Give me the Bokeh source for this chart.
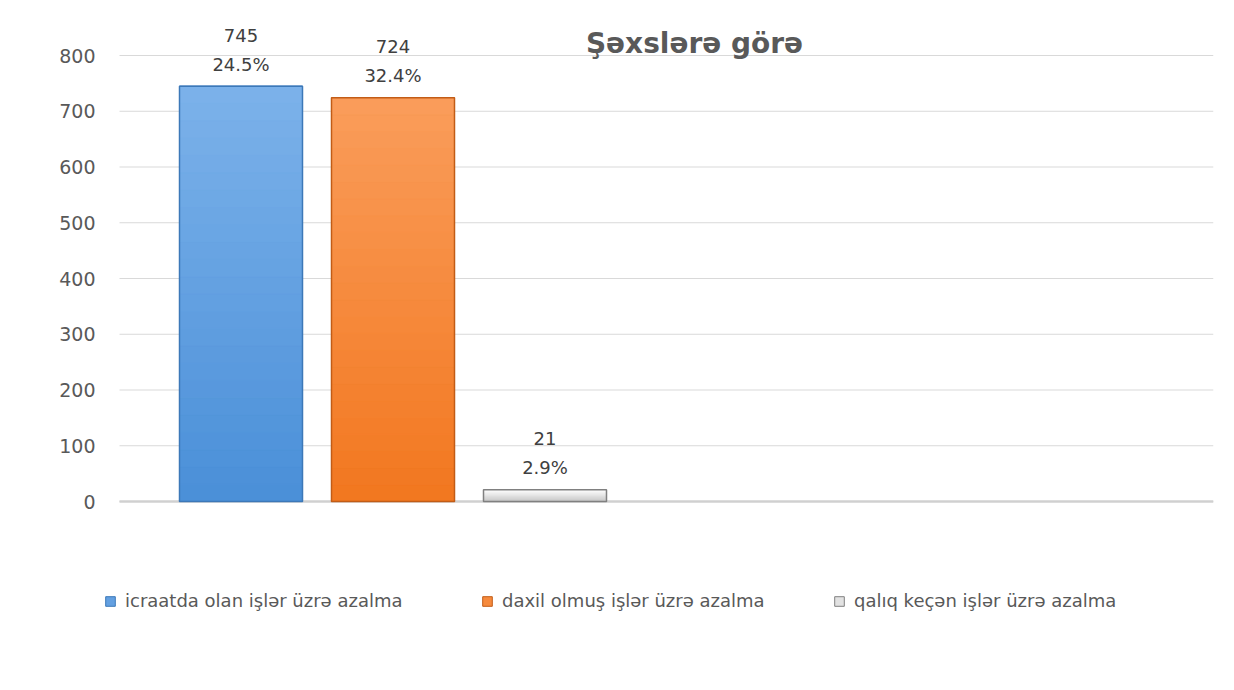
from bokeh.plotting import figure
from bokeh.models import Range1d, FixedTicker, Legend, LegendItem, ColumnDataSource
from bokeh.core.properties import value
from bokeh.embed import file_html
from bokeh.resources import INLINE

# ---- data ----
title_text = "Şəxslərə görə"
series_names = ["icraatda olan işlər üzrə azalma",
                "daxil olmuş işlər üzrə azalma",
                "qalıq keçən işlər üzrə azalma"]
series_values = [745, 724, 21]
series_percents = ["24.5%", "32.4%", "2.9%"]
y_ticks = [0, 100, 200, 300, 400, 500, 600, 700, 800]
n_categories = 2  # second category slot is empty

# ---- style ----
FONT = "DejaVu Sans"
TXT = "#595959"
top_colors = ["#7cb2ea", "#fa9d5b", "#ffffff"]
bot_colors = ["#4a8fd8", "#f2771f", "#c4c4c4"]
line_colors = ["#3c78b8", "#c25c16", "#808080"]

W, H = 1226, 682
left_b, right_b = 104, 13
cat_px = 547.0
data_left_px = 119           # where x = 0 sits
x_start = -(data_left_px - left_b) / cat_px
px_per_unit = 55.75 / 100.0
zero_px = 501
y_end = zero_px / px_per_unit
y_start = -(H - zero_px) / px_per_unit

p = figure(width=W, height=H, output_backend="svg", toolbar_location=None,
           x_range=Range1d(x_start, n_categories), y_range=Range1d(y_start, y_end),
           min_border_left=left_b, min_border_right=right_b,
           min_border_top=0, min_border_bottom=0)
p.outline_line_color = None
p.xaxis.visible = False
p.xgrid.visible = False
p.ygrid.visible = False
p.yaxis.ticker = FixedTicker(ticks=y_ticks)
p.yaxis.axis_line_color = None
p.yaxis.major_tick_line_color = None
p.yaxis.minor_tick_line_color = None
p.yaxis.major_label_text_font = FONT
p.yaxis.major_label_text_font_size = "19px"
p.yaxis.major_label_text_color = TXT
p.yaxis.major_label_standoff = 3
p.background_fill_color = "white"
p.border_fill_color = "white"

# gridlines spanning the category area
p.segment(x0=[0] * len(y_ticks), x1=[n_categories] * len(y_ticks),
          y0=y_ticks, y1=y_ticks, line_color="#d9d9d9", line_width=1)
p.segment(x0=[0], x1=[n_categories], y0=[0], y1=[0],
          line_color="#d0d0d0", line_width=2.5)

# bar geometry within category 0
cat_center = 0.5
step = 152 / cat_px
bar_w = 123 / cat_px
n = len(series_values)

def lerp(c1, c2, t):
    a = [int(c1[i:i + 2], 16) for i in (1, 3, 5)]
    b = [int(c2[i:i + 2], 16) for i in (1, 3, 5)]
    return "#%02x%02x%02x" % tuple(round(a[k] + (b[k] - a[k]) * t) for k in range(3))

legend_renderers = []
N_BANDS = 24
for i, (name, v) in enumerate(zip(series_names, series_values)):
    xc = cat_center + (i - (n - 1) / 2) * step
    l, r = xc - bar_w / 2, xc + bar_w / 2
    base = p.quad(left=[l], right=[r], bottom=[0], top=[v],
                  fill_color=lerp(top_colors[i], bot_colors[i], 0.5),
                  line_color=line_colors[i], line_width=1)
    legend_renderers.append(base)
    bands = dict(left=[], right=[], bottom=[], top=[], color=[])
    for k in range(N_BANDS):
        bands["left"].append(l)
        bands["right"].append(r)
        bands["bottom"].append(v * k / N_BANDS)
        bands["top"].append(v * (k + 1) / N_BANDS)
        bands["color"].append(lerp(bot_colors[i], top_colors[i], (k + 0.5) / N_BANDS))
    p.quad(left="left", right="right", bottom="bottom", top="top",
           fill_color="color", line_color="color", line_width=0.5,
           source=ColumnDataSource(bands))
    p.quad(left=[l], right=[r], bottom=[0], top=[v], fill_color=None,
           line_color=line_colors[i], line_width=1.5)

# data labels
xs = [cat_center + (i - (n - 1) / 2) * step for i in range(n)]
lab_src = ColumnDataSource(dict(x=xs, y=series_values,
                                val=[str(v) for v in series_values],
                                pct=series_percents))
p.text(x="x", y="y", text="val", source=lab_src, y_offset=-51,
       text_align="center", text_baseline="middle",
       text_font=value(FONT), text_font_size="18px", text_color="#404040")
p.text(x="x", y="y", text="pct", source=lab_src, y_offset=-22,
       text_align="center", text_baseline="middle",
       text_font=value(FONT), text_font_size="18px", text_color="#404040")

# title
p.text(x=[(694 - data_left_px) / cat_px], y=[(501 - 43) / px_per_unit], text=[title_text],
       text_align="center", text_baseline="middle",
       text_font=value(FONT), text_font_style="bold",
       text_font_size="28px", text_color=TXT)

# legends
legend_x = [104 - left_b, 481 - left_b, 833 - left_b]
for i, r in enumerate(legend_renderers):
    lg = Legend(items=[LegendItem(label=series_names[i], renderers=[r])],
                location=(legend_x[i], 71), orientation="horizontal",
                glyph_width=12, glyph_height=12, label_standoff=9,
                padding=0, margin=0, border_line_color=None,
                background_fill_alpha=0,
                label_text_font=FONT, label_text_font_size="18px",
                label_text_color=TXT)
    p.add_layout(lg)

open("out.html", "w").write(file_html(p, INLINE))
